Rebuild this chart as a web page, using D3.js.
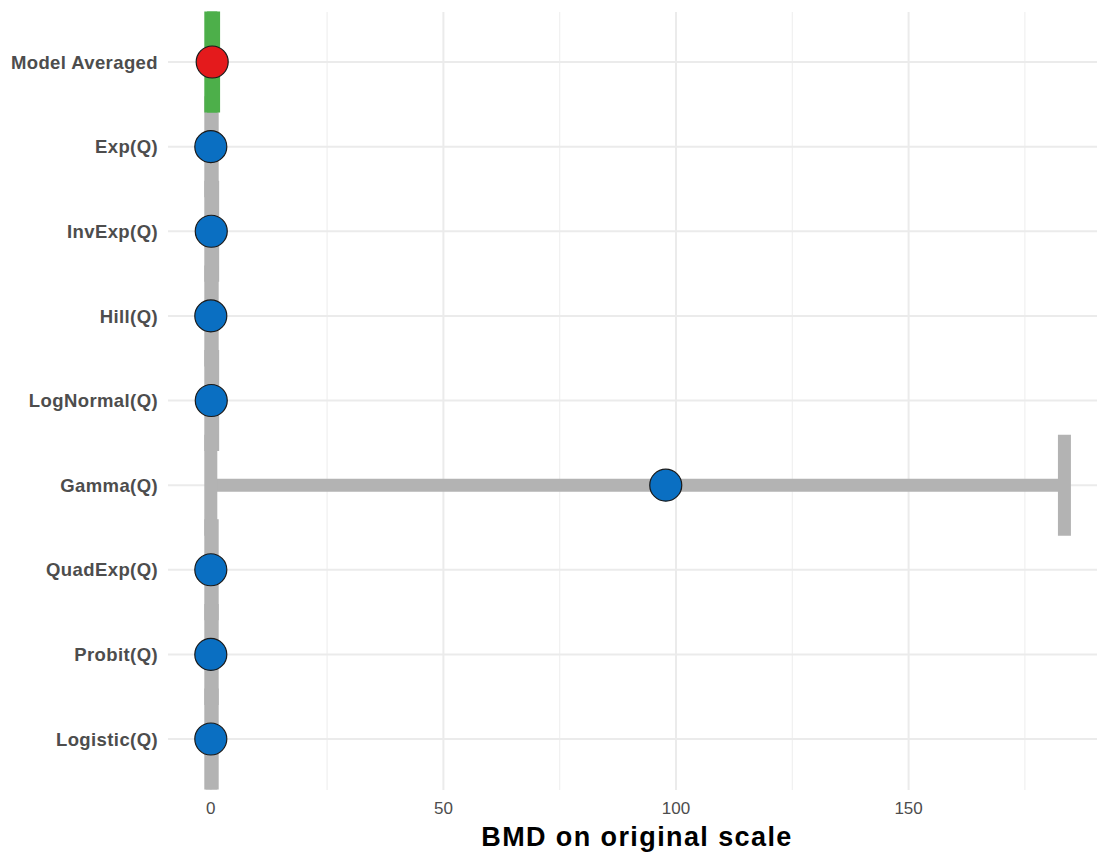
<!DOCTYPE html>
<html><head><meta charset="utf-8">
<script src="https://cdn.jsdelivr.net/npm/d3@7"></script>
<style>body{margin:0;background:#fff}svg{display:block}</style>
</head><body><svg id="c" width="1097" height="859"></svg>
<script>
const models = ["Model Averaged","Exp(Q)","InvExp(Q)","Hill(Q)","LogNormal(Q)","Gamma(Q)","QuadExp(Q)","Probit(Q)","Logistic(Q)"];
const bmd   = [0.3, 0, 0.1, 0, 0.1, 97.8, 0, 0, 0];
const lower = [0, 0, 0, 0, 0, 0, 0, 0, 0];
const upper = [0.6, 0.3, 0.4, 0.3, 0.4, 183.5, 0.3, 0.3, 0.3];
const xTicks = [0, 50, 100, 150];
const xMinor = [25, 75, 125, 175];

(function () {
const svg = d3.select("#c");
const pL = 168, pR = 1097, pT = 12, pB = 790;
const x = d3.scaleLinear().domain([-9.2, 190.5]).range([pL, pR]);
const y = d3.scalePoint().domain(models).range([62, 739]);
const capHalf = 50.5, lw = 13;
const ff = "Liberation Sans, Arial, Helvetica, sans-serif";

const g = svg.append("g");
g.selectAll(".minor").data(xMinor).join("line")
  .attr("x1", d => x(d)).attr("x2", d => x(d)).attr("y1", pT).attr("y2", pB)
  .attr("stroke", "#f0f0f0").attr("stroke-width", 1.2);
g.selectAll(".major").data(xTicks).join("line")
  .attr("x1", d => x(d)).attr("x2", d => x(d)).attr("y1", pT).attr("y2", pB)
  .attr("stroke", "#ebebeb").attr("stroke-width", 2);
g.selectAll(".hg").data(models).join("line")
  .attr("x1", pL).attr("x2", pR).attr("y1", d => y(d)).attr("y2", d => y(d))
  .attr("stroke", "#ebebeb").attr("stroke-width", 2);

const rows = models.map((m, i) => ({m, b: bmd[i], lo: lower[i], hi: upper[i], avg: i === 0}));
const order = rows.slice(1).concat([rows[0]]);
const eb = g.append("g");
order.forEach(r => {
  const col = r.avg ? "#4daf4a" : "#b3b3b3";
  eb.append("line").attr("x1", x(r.lo)).attr("x2", x(r.hi)).attr("y1", y(r.m)).attr("y2", y(r.m))
    .attr("stroke", col).attr("stroke-width", lw);
  [r.lo, r.hi].forEach(v => {
    eb.append("line").attr("x1", x(v)).attr("x2", x(v)).attr("y1", y(r.m) - capHalf).attr("y2", y(r.m) + capHalf)
      .attr("stroke", col).attr("stroke-width", lw);
  });
});
g.selectAll(".pt").data(order).join("circle")
  .attr("cx", d => x(d.b)).attr("cy", d => y(d.m)).attr("r", 16)
  .attr("fill", d => d.avg ? "#e41a1c" : "#0a6fc2")
  .attr("stroke", "#1a1a1a").attr("stroke-width", 1.2);

g.selectAll(".yl").data(models).join("text")
  .attr("x", 158).attr("y", d => y(d)).attr("dy", "0.36em")
  .attr("text-anchor", "end").attr("font-family", ff)
  .attr("font-weight", "bold").attr("font-size", 18.5).attr("letter-spacing", 0.4)
  .attr("fill", "#4d4d4d").text(d => d);
g.selectAll(".xl").data(xTicks).join("text")
  .attr("x", d => x(d)).attr("y", 814).attr("text-anchor", "middle")
  .attr("font-family", ff).attr("font-size", 17).attr("fill", "#4d4d4d")
  .text(d => d);
svg.append("text").attr("x", 637).attr("y", 846).attr("text-anchor", "middle")
  .attr("font-family", ff).attr("font-weight", "bold")
  .attr("font-size", 27).attr("letter-spacing", 1.4).attr("fill", "#000").text("BMD on original scale");
})();
</script></body></html>
